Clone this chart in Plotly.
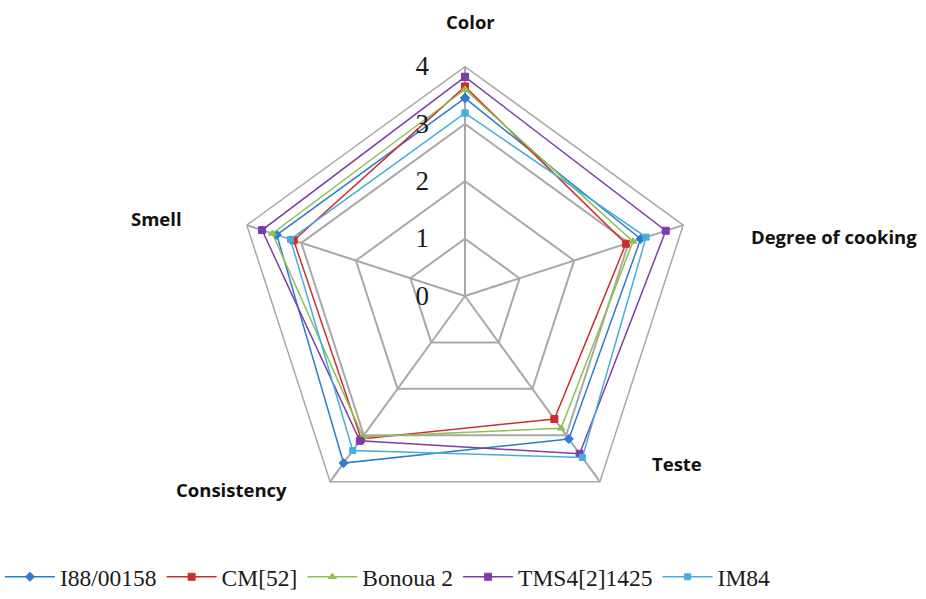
import plotly.graph_objects as go

# Sensory attributes, clockwise from the top
categories = ["Color", "Degree of cooking", "Teste", "Consistency", "Smell"]

# Mean scores per variety
i88_00158 = [3.45, 3.22, 3.08, 3.60, 3.45]
cm52 = [3.65, 2.95, 2.65, 3.08, 3.14]
bonoua2 = [3.60, 3.08, 2.85, 3.03, 3.53]
tms4_2_1425 = [3.82, 3.68, 3.40, 3.12, 3.72]
im84 = [3.19, 3.32, 3.48, 3.33, 3.20]

series_names = ["I88/00158", "CM[52]", "Bonoua 2", "TMS4[2]1425", "IM84"]
series_values = [i88_00158, cm52, bonoua2, tms4_2_1425, im84]

radial_ticks = [0, 1, 2, 3, 4]

# Styling
colors = ["#2E7BCF", "#CC2E2E", "#8CC152", "#7A3EA8", "#45AEDB"]
symbols = ["diamond", "square", "triangle-up", "square", "square"]
marker_sizes = [7, 7, 7, 7, 6]

W, H = 926, 599
# Pixel centres of the category labels around the web
label_px = [(470, 22), (834, 238), (677, 467), (232, 493), (156, 220)]

fig = go.Figure()
for name, vals, col, sym, ms in zip(series_names, series_values, colors, symbols, marker_sizes):
    fig.add_trace(go.Scatterpolar(
        r=vals + vals[:1],
        theta=categories + categories[:1],
        mode="lines+markers",
        name=name,
        line=dict(color=col, width=1.5),
        marker=dict(symbol=sym, size=ms, color=col,
                    line=dict(color=col, width=1)),
    ))

cx, cy, rad = 465, 298, 231
fig.update_layout(
    width=W, height=H,
    margin=dict(l=0, r=0, t=0, b=0),
    paper_bgcolor="white",
    polar=dict(
        domain=dict(x=[(cx - rad) / W, (cx + rad) / W],
                    y=[1 - (cy + rad) / H, 1 - (cy - rad) / H]),
        bgcolor="white",
        gridshape="linear",
        radialaxis=dict(
            range=[0, 4],
            tickvals=radial_ticks,
            ticktext=[str(t) for t in radial_ticks],
            angle=90,
            side="counterclockwise",
            showline=False,
            ticks="outside",
            ticklen=26,
            tickcolor="rgba(0,0,0,0)",
            tickangle=90,
            gridcolor="#A8A8A8",
            gridwidth=1.5,
            tickfont=dict(family="Liberation Serif", size=27, color="#1a1a1a"),
        ),
        angularaxis=dict(
            direction="clockwise",
            rotation=90,
            showticklabels=False,
            ticks="",
            showline=True,
            linecolor="#A8A8A8",
            linewidth=1.5,
            gridcolor="#A8A8A8",
            gridwidth=1.5,
        ),
    ),
    showlegend=True,
    legend=dict(
        orientation="h",
        x=0.0, xanchor="left",
        y=1 - 581 / H, yanchor="middle",
        font=dict(family="Liberation Serif", size=23.5, color="#1a1a1a"),
        itemwidth=50,
        bgcolor="rgba(0,0,0,0)",
    ),
)

for cat, (px, py) in zip(categories, label_px):
    fig.add_annotation(
        x=px / W, y=1 - py / H, xref="paper", yref="paper",
        text=f"<b>{cat}</b>", showarrow=False,
        xanchor="center", yanchor="middle",
        font=dict(family="Open Sans", size=18.5, color="#111111"),
    )

fig.write_html("out.html")
